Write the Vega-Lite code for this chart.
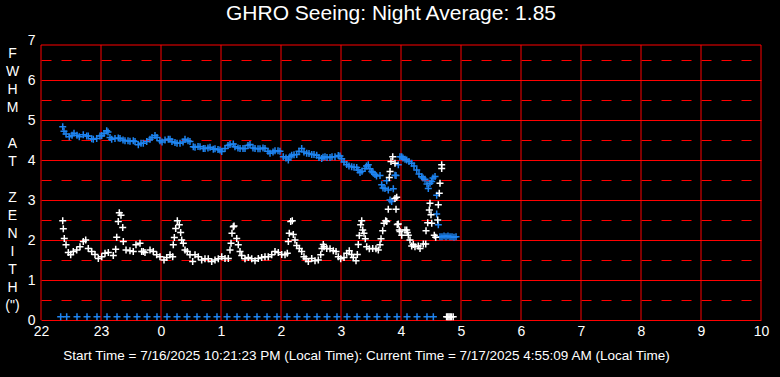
{
"$schema": "https://vega.github.io/schema/vega-lite/v6.json",
"width": 720, "height": 280,
"autosize": {"type": "none"},
"padding": {"left": 41, "top": 40, "right": 19, "bottom": 57},
"background": "black",
"config": {"view": {"stroke": null}, "font": "Liberation Sans"},
"title": {"text": "GHRO Seeing: Night Average: 1.85", "color": "white", "fontSize": 21, "fontWeight": "normal", "font": "Liberation Sans", "anchor": "middle", "offset": 9, "dx": -10},
"datasets": {
"hours": [{"h":0},{"h":1},{"h":2},{"h":3},{"h":4},{"h":5},{"h":6},{"h":7},{"h":8},{"h":9},{"h":10},{"h":11},{"h":12}],
"frame": [{"v":6.875}],
"pts": [
{"h":0.362,"v":4.83,"s":"b"},{"h":0.383,"v":4.72,"s":"b"},{"h":0.417,"v":4.65,"s":"b"},{"h":0.472,"v":4.58,"s":"b"},{"h":0.517,"v":4.62,"s":"b"},{"h":0.55,"v":4.67,"s":"b"},{"h":0.6,"v":4.62,"s":"b"},{"h":0.638,"v":4.58,"s":"b"},{"h":0.705,"v":4.63,"s":"b"},{"h":0.762,"v":4.6,"s":"b"},{"h":0.788,"v":4.6,"s":"b"},{"h":0.845,"v":4.53,"s":"b"},{"h":0.872,"v":4.52,"s":"b"},{"h":0.928,"v":4.54,"s":"b"},{"h":0.983,"v":4.6,"s":"b"},{"h":1.012,"v":4.61,"s":"b"},{"h":1.05,"v":4.66,"s":"b"},{"h":1.095,"v":4.73,"s":"b"},{"h":1.117,"v":4.7,"s":"b"},{"h":1.15,"v":4.56,"s":"b"},{"h":1.178,"v":4.52,"s":"b"},{"h":1.233,"v":4.54,"s":"b"},{"h":1.288,"v":4.55,"s":"b"},{"h":1.317,"v":4.54,"s":"b"},{"h":1.367,"v":4.5,"s":"b"},{"h":1.4,"v":4.48,"s":"b"},{"h":1.45,"v":4.48,"s":"b"},{"h":1.483,"v":4.47,"s":"b"},{"h":1.538,"v":4.48,"s":"b"},{"h":1.567,"v":4.46,"s":"b"},{"h":1.622,"v":4.38,"s":"b"},{"h":1.667,"v":4.42,"s":"b"},{"h":1.705,"v":4.42,"s":"b"},{"h":1.762,"v":4.46,"s":"b"},{"h":1.817,"v":4.52,"s":"b"},{"h":1.85,"v":4.56,"s":"b"},{"h":1.9,"v":4.61,"s":"b"},{"h":1.933,"v":4.56,"s":"b"},{"h":1.983,"v":4.48,"s":"b"},{"h":2.017,"v":4.45,"s":"b"},{"h":2.067,"v":4.5,"s":"b"},{"h":2.122,"v":4.52,"s":"b"},{"h":2.15,"v":4.52,"s":"b"},{"h":2.183,"v":4.46,"s":"b"},{"h":2.233,"v":4.44,"s":"b"},{"h":2.267,"v":4.42,"s":"b"},{"h":2.317,"v":4.42,"s":"b"},{"h":2.367,"v":4.45,"s":"b"},{"h":2.4,"v":4.52,"s":"b"},{"h":2.45,"v":4.48,"s":"b"},{"h":2.483,"v":4.46,"s":"b"},{"h":2.538,"v":4.33,"s":"b"},{"h":2.567,"v":4.32,"s":"b"},{"h":2.617,"v":4.34,"s":"b"},{"h":2.65,"v":4.33,"s":"b"},{"h":2.705,"v":4.29,"s":"b"},{"h":2.733,"v":4.29,"s":"b"},{"h":2.783,"v":4.3,"s":"b"},{"h":2.817,"v":4.32,"s":"b"},{"h":2.872,"v":4.27,"s":"b"},{"h":2.9,"v":4.28,"s":"b"},{"h":2.95,"v":4.26,"s":"b"},{"h":2.983,"v":4.25,"s":"b"},{"h":3.012,"v":4.21,"s":"b"},{"h":3.067,"v":4.29,"s":"b"},{"h":3.117,"v":4.36,"s":"b"},{"h":3.15,"v":4.39,"s":"b"},{"h":3.205,"v":4.4,"s":"b"},{"h":3.233,"v":4.33,"s":"b"},{"h":3.283,"v":4.3,"s":"b"},{"h":3.317,"v":4.29,"s":"b"},{"h":3.367,"v":4.29,"s":"b"},{"h":3.4,"v":4.29,"s":"b"},{"h":3.45,"v":4.36,"s":"b"},{"h":3.483,"v":4.39,"s":"b"},{"h":3.533,"v":4.3,"s":"b"},{"h":3.567,"v":4.29,"s":"b"},{"h":3.617,"v":4.28,"s":"b"},{"h":3.65,"v":4.28,"s":"b"},{"h":3.7,"v":4.3,"s":"b"},{"h":3.733,"v":4.29,"s":"b"},{"h":3.783,"v":4.22,"s":"b"},{"h":3.817,"v":4.17,"s":"b"},{"h":3.867,"v":4.2,"s":"b"},{"h":3.9,"v":4.23,"s":"b"},{"h":3.95,"v":4.23,"s":"b"},{"h":3.983,"v":4.22,"s":"b"},{"h":4.038,"v":4.08,"s":"b"},{"h":4.083,"v":4.05,"s":"b"},{"h":4.122,"v":4.0,"s":"b"},{"h":4.15,"v":4.08,"s":"b"},{"h":4.178,"v":4.12,"s":"b"},{"h":4.217,"v":4.13,"s":"b"},{"h":4.262,"v":4.14,"s":"b"},{"h":4.3,"v":4.22,"s":"b"},{"h":4.345,"v":4.29,"s":"b"},{"h":4.383,"v":4.2,"s":"b"},{"h":4.428,"v":4.17,"s":"b"},{"h":4.467,"v":4.16,"s":"b"},{"h":4.512,"v":4.14,"s":"b"},{"h":4.55,"v":4.14,"s":"b"},{"h":4.595,"v":4.12,"s":"b"},{"h":4.633,"v":4.06,"s":"b"},{"h":4.678,"v":4.04,"s":"b"},{"h":4.7,"v":4.07,"s":"b"},{"h":4.733,"v":4.08,"s":"b"},{"h":4.767,"v":4.06,"s":"b"},{"h":4.817,"v":4.06,"s":"b"},{"h":4.85,"v":4.08,"s":"b"},{"h":4.9,"v":4.08,"s":"b"},{"h":4.955,"v":4.11,"s":"b"},{"h":4.983,"v":4.1,"s":"b"},{"h":5.012,"v":4.03,"s":"b"},{"h":5.05,"v":3.95,"s":"b"},{"h":5.095,"v":3.89,"s":"b"},{"h":5.133,"v":3.85,"s":"b"},{"h":5.178,"v":3.83,"s":"b"},{"h":5.217,"v":3.82,"s":"b"},{"h":5.262,"v":3.81,"s":"b"},{"h":5.283,"v":3.75,"s":"b"},{"h":5.317,"v":3.69,"s":"b"},{"h":5.35,"v":3.72,"s":"b"},{"h":5.4,"v":3.79,"s":"b"},{"h":5.425,"v":3.85,"s":"b"},{"h":5.455,"v":3.88,"s":"b"},{"h":5.483,"v":3.78,"s":"b"},{"h":5.512,"v":3.71,"s":"b"},{"h":5.533,"v":3.68,"s":"b"},{"h":5.567,"v":3.64,"s":"b"},{"h":5.592,"v":3.6,"s":"b"},{"h":5.65,"v":3.61,"s":"b"},{"h":5.678,"v":3.38,"s":"b"},{"h":5.7,"v":3.3,"s":"b"},{"h":5.733,"v":3.29,"s":"b"},{"h":5.762,"v":3.48,"s":"b"},{"h":5.788,"v":3.25,"s":"b"},{"h":5.817,"v":3.0,"s":"b"},{"h":5.845,"v":2.96,"s":"b"},{"h":5.872,"v":3.28,"s":"b"},{"h":5.9,"v":3.62,"s":"b"},{"h":5.917,"v":3.61,"s":"b"},{"h":5.955,"v":3.88,"s":"b"},{"h":5.983,"v":4.08,"s":"b"},{"h":6.012,"v":4.08,"s":"b"},{"h":6.033,"v":4.05,"s":"b"},{"h":6.067,"v":4.02,"s":"b"},{"h":6.095,"v":4.0,"s":"b"},{"h":6.133,"v":3.96,"s":"b"},{"h":6.178,"v":3.92,"s":"b"},{"h":6.217,"v":3.85,"s":"b"},{"h":6.262,"v":3.75,"s":"b"},{"h":6.3,"v":3.65,"s":"b"},{"h":6.345,"v":3.58,"s":"b"},{"h":6.367,"v":3.55,"s":"b"},{"h":6.4,"v":3.52,"s":"b"},{"h":6.433,"v":3.4,"s":"b"},{"h":6.455,"v":3.29,"s":"b"},{"h":6.483,"v":3.42,"s":"b"},{"h":6.512,"v":3.46,"s":"b"},{"h":6.533,"v":3.55,"s":"b"},{"h":6.567,"v":3.59,"s":"b"},{"h":6.595,"v":2.65,"s":"b"},{"h":6.595,"v":3.12,"s":"b"},{"h":6.622,"v":2.38,"s":"b"},{"h":6.65,"v":2.08,"s":"b"},{"h":6.683,"v":2.08,"s":"b"},{"h":6.717,"v":2.1,"s":"b"},{"h":6.75,"v":2.08,"s":"b"},{"h":6.783,"v":2.1,"s":"b"},{"h":6.817,"v":2.08,"s":"b"},{"h":6.85,"v":2.08,"s":"b"},{"h":6.883,"v":2.07,"s":"b"},{"h":6.917,"v":2.08,"s":"b"},
{"h":0.328,"v":0.08,"s":"b"},{"h":0.428,"v":0.08,"s":"b"},{"h":0.6,"v":0.08,"s":"b"},{"h":0.767,"v":0.08,"s":"b"},{"h":0.933,"v":0.08,"s":"b"},{"h":1.1,"v":0.08,"s":"b"},{"h":1.267,"v":0.08,"s":"b"},{"h":1.433,"v":0.08,"s":"b"},{"h":1.6,"v":0.08,"s":"b"},{"h":1.767,"v":0.08,"s":"b"},{"h":1.933,"v":0.08,"s":"b"},{"h":2.1,"v":0.08,"s":"b"},{"h":2.267,"v":0.08,"s":"b"},{"h":2.433,"v":0.08,"s":"b"},{"h":2.6,"v":0.08,"s":"b"},{"h":2.767,"v":0.08,"s":"b"},{"h":2.933,"v":0.08,"s":"b"},{"h":3.1,"v":0.08,"s":"b"},{"h":3.267,"v":0.08,"s":"b"},{"h":3.433,"v":0.08,"s":"b"},{"h":3.6,"v":0.08,"s":"b"},{"h":3.767,"v":0.08,"s":"b"},{"h":3.933,"v":0.08,"s":"b"},{"h":4.1,"v":0.08,"s":"b"},{"h":4.267,"v":0.08,"s":"b"},{"h":4.433,"v":0.08,"s":"b"},{"h":4.6,"v":0.08,"s":"b"},{"h":4.767,"v":0.08,"s":"b"},{"h":4.933,"v":0.08,"s":"b"},{"h":5.1,"v":0.08,"s":"b"},{"h":5.267,"v":0.08,"s":"b"},{"h":5.433,"v":0.08,"s":"b"},{"h":5.6,"v":0.08,"s":"b"},{"h":5.767,"v":0.08,"s":"b"},{"h":5.933,"v":0.08,"s":"b"},{"h":6.1,"v":0.08,"s":"b"},{"h":6.267,"v":0.08,"s":"b"},{"h":6.433,"v":0.08,"s":"b"},{"h":6.539,"v":0.08,"s":"b"},
{"h":0.362,"v":2.48,"s":"w"},{"h":0.372,"v":2.28,"s":"w"},{"h":0.388,"v":2.04,"s":"w"},{"h":0.417,"v":1.88,"s":"w"},{"h":0.455,"v":1.69,"s":"w"},{"h":0.495,"v":1.63,"s":"w"},{"h":0.538,"v":1.71,"s":"w"},{"h":0.595,"v":1.75,"s":"w"},{"h":0.65,"v":1.83,"s":"w"},{"h":0.705,"v":1.96,"s":"w"},{"h":0.745,"v":2.0,"s":"w"},{"h":0.788,"v":1.79,"s":"w"},{"h":0.845,"v":1.71,"s":"w"},{"h":0.9,"v":1.64,"s":"w"},{"h":0.955,"v":1.54,"s":"w"},{"h":1.012,"v":1.58,"s":"w"},{"h":1.067,"v":1.67,"s":"w"},{"h":1.122,"v":1.69,"s":"w"},{"h":1.205,"v":1.61,"s":"w"},{"h":1.245,"v":1.77,"s":"w"},{"h":1.262,"v":2.07,"s":"w"},{"h":1.288,"v":2.46,"s":"w"},{"h":1.305,"v":2.68,"s":"w"},{"h":1.333,"v":2.62,"s":"w"},{"h":1.362,"v":2.31,"s":"w"},{"h":1.372,"v":1.96,"s":"w"},{"h":1.417,"v":1.75,"s":"w"},{"h":1.483,"v":1.73,"s":"w"},{"h":1.538,"v":1.71,"s":"w"},{"h":1.583,"v":1.88,"s":"w"},{"h":1.65,"v":1.92,"s":"w"},{"h":1.678,"v":1.71,"s":"w"},{"h":1.705,"v":1.71,"s":"w"},{"h":1.733,"v":1.69,"s":"w"},{"h":1.817,"v":1.75,"s":"w"},{"h":1.872,"v":1.71,"s":"w"},{"h":1.928,"v":1.63,"s":"w"},{"h":1.983,"v":1.58,"s":"w"},{"h":2.05,"v":1.5,"s":"w"},{"h":2.095,"v":1.56,"s":"w"},{"h":2.15,"v":1.63,"s":"w"},{"h":2.195,"v":1.58,"s":"w"},{"h":2.205,"v":1.88,"s":"w"},{"h":2.222,"v":2.06,"s":"w"},{"h":2.245,"v":2.29,"s":"w"},{"h":2.272,"v":2.48,"s":"w"},{"h":2.305,"v":2.38,"s":"w"},{"h":2.328,"v":2.19,"s":"w"},{"h":2.345,"v":2.0,"s":"w"},{"h":2.372,"v":1.92,"s":"w"},{"h":2.4,"v":1.75,"s":"w"},{"h":2.438,"v":1.71,"s":"w"},{"h":2.483,"v":1.63,"s":"w"},{"h":2.528,"v":1.46,"s":"w"},{"h":2.567,"v":1.63,"s":"w"},{"h":2.622,"v":1.58,"s":"w"},{"h":2.678,"v":1.5,"s":"w"},{"h":2.733,"v":1.53,"s":"w"},{"h":2.788,"v":1.53,"s":"w"},{"h":2.845,"v":1.46,"s":"w"},{"h":2.9,"v":1.5,"s":"w"},{"h":2.955,"v":1.53,"s":"w"},{"h":3.012,"v":1.58,"s":"w"},{"h":3.067,"v":1.54,"s":"w"},{"h":3.122,"v":1.54,"s":"w"},{"h":3.15,"v":1.75,"s":"w"},{"h":3.167,"v":1.92,"s":"w"},{"h":3.183,"v":2.17,"s":"w"},{"h":3.205,"v":2.33,"s":"w"},{"h":3.217,"v":2.35,"s":"w"},{"h":3.262,"v":2.04,"s":"w"},{"h":3.288,"v":1.88,"s":"w"},{"h":3.317,"v":1.71,"s":"w"},{"h":3.345,"v":1.61,"s":"w"},{"h":3.4,"v":1.53,"s":"w"},{"h":3.455,"v":1.56,"s":"w"},{"h":3.512,"v":1.53,"s":"w"},{"h":3.567,"v":1.48,"s":"w"},{"h":3.622,"v":1.54,"s":"w"},{"h":3.678,"v":1.56,"s":"w"},{"h":3.733,"v":1.58,"s":"w"},{"h":3.788,"v":1.58,"s":"w"},{"h":3.845,"v":1.63,"s":"w"},{"h":3.9,"v":1.71,"s":"w"},{"h":3.955,"v":1.69,"s":"w"},{"h":4.012,"v":1.64,"s":"w"},{"h":4.067,"v":1.63,"s":"w"},{"h":4.105,"v":1.67,"s":"w"},{"h":4.122,"v":1.96,"s":"w"},{"h":4.138,"v":2.17,"s":"w"},{"h":4.162,"v":2.46,"s":"w"},{"h":4.188,"v":2.48,"s":"w"},{"h":4.205,"v":2.14,"s":"w"},{"h":4.233,"v":2.0,"s":"w"},{"h":4.262,"v":1.86,"s":"w"},{"h":4.305,"v":1.79,"s":"w"},{"h":4.345,"v":1.71,"s":"w"},{"h":4.383,"v":1.58,"s":"w"},{"h":4.417,"v":1.53,"s":"w"},{"h":4.455,"v":1.46,"s":"w"},{"h":4.512,"v":1.54,"s":"w"},{"h":4.567,"v":1.48,"s":"w"},{"h":4.622,"v":1.5,"s":"w"},{"h":4.662,"v":1.63,"s":"w"},{"h":4.683,"v":1.79,"s":"w"},{"h":4.705,"v":1.89,"s":"w"},{"h":4.717,"v":1.83,"s":"w"},{"h":4.762,"v":1.79,"s":"w"},{"h":4.817,"v":1.78,"s":"w"},{"h":4.872,"v":1.73,"s":"w"},{"h":4.917,"v":1.71,"s":"w"},{"h":4.955,"v":1.58,"s":"w"},{"h":4.995,"v":1.53,"s":"w"},{"h":5.05,"v":1.56,"s":"w"},{"h":5.095,"v":1.67,"s":"w"},{"h":5.138,"v":1.73,"s":"w"},{"h":5.178,"v":1.64,"s":"w"},{"h":5.205,"v":1.56,"s":"w"},{"h":5.25,"v":1.48,"s":"w"},{"h":5.272,"v":1.64,"s":"w"},{"h":5.288,"v":1.89,"s":"w"},{"h":5.305,"v":2.11,"s":"w"},{"h":5.328,"v":2.38,"s":"w"},{"h":5.345,"v":2.48,"s":"w"},{"h":5.362,"v":2.25,"s":"w"},{"h":5.383,"v":2.17,"s":"w"},{"h":5.405,"v":2.03,"s":"w"},{"h":5.428,"v":1.83,"s":"w"},{"h":5.472,"v":1.78,"s":"w"},{"h":5.528,"v":1.79,"s":"w"},{"h":5.583,"v":1.78,"s":"w"},{"h":5.622,"v":1.75,"s":"w"},{"h":5.65,"v":1.88,"s":"w"},{"h":5.667,"v":2.03,"s":"w"},{"h":5.695,"v":2.23,"s":"w"},{"h":5.717,"v":2.42,"s":"w"},{"h":5.745,"v":2.48,"s":"w"},{"h":5.762,"v":2.46,"s":"w"},{"h":5.788,"v":2.77,"s":"w"},{"h":5.805,"v":3.56,"s":"w"},{"h":5.817,"v":3.71,"s":"w"},{"h":5.833,"v":3.96,"s":"w"},{"h":5.862,"v":4.08,"s":"w"},{"h":5.9,"v":3.92,"s":"w"},{"h":5.9,"v":3.04,"s":"w"},{"h":5.917,"v":2.77,"s":"w"},{"h":5.928,"v":3.07,"s":"w"},{"h":5.938,"v":2.39,"s":"w"},{"h":5.955,"v":2.4,"s":"w"},{"h":5.972,"v":2.25,"s":"w"},{"h":5.983,"v":2.21,"s":"w"},{"h":6.012,"v":2.12,"s":"w"},{"h":6.067,"v":2.25,"s":"w"},{"h":6.095,"v":2.25,"s":"w"},{"h":6.105,"v":2.19,"s":"w"},{"h":6.122,"v":2.12,"s":"w"},{"h":6.15,"v":2.0,"s":"w"},{"h":6.178,"v":1.85,"s":"w"},{"h":6.205,"v":1.89,"s":"w"},{"h":6.233,"v":1.83,"s":"w"},{"h":6.288,"v":1.85,"s":"w"},{"h":6.317,"v":1.79,"s":"w"},{"h":6.372,"v":1.9,"s":"w"},{"h":6.412,"v":1.9,"s":"w"},{"h":6.417,"v":2.23,"s":"w"},{"h":6.445,"v":2.43,"s":"w"},{"h":6.472,"v":2.75,"s":"w"},{"h":6.483,"v":2.92,"s":"w"},{"h":6.5,"v":2.63,"s":"w"},{"h":6.512,"v":2.42,"s":"w"},{"h":6.555,"v":2.12,"s":"w"},{"h":6.578,"v":2.07,"s":"w"},{"h":6.612,"v":2.5,"s":"w"},{"h":6.622,"v":2.88,"s":"w"},{"h":6.638,"v":3.17,"s":"w"},{"h":6.65,"v":3.42,"s":"w"},{"h":6.678,"v":3.79,"s":"w"},{"h":6.678,"v":3.88,"s":"w"},
{"h":6.76,"v":0.08,"s":"w"},{"h":6.78,"v":0.08,"s":"w"},{"h":6.8,"v":0.08,"s":"w"},{"h":6.82,"v":0.08,"s":"w"},{"h":6.84,"v":0.08,"s":"w"},{"h":6.87,"v":0.08,"s":"w"}
]
},
"layer": [
{
 "data": {"name": "hours"},
 "mark": {"type": "rule", "color": "#ff0000", "strokeWidth": 1},
 "encoding": {
  "x": {"field": "h", "type": "quantitative", "scale": {"domain": [0, 12]},
   "axis": {"values": [0,1,2,3,4,5,6,7,8,9,10,11,12], "tickCount": 30, "labelExpr": "'' + ((22 + datum.value) % 24)", "labelColor": "white", "labelFontSize": 14, "labelFont": "Liberation Sans", "ticks": false, "domain": false, "grid": false, "labelPadding": 4, "labelFlush": false, "labelOverlap": false,
    "title": "Start Time = 7/16/2025 10:21:23 PM (Local Time): Current Time = 7/17/2025 4:55:09 AM (Local Time)", "titleColor": "white", "titleFontSize": 13.5, "titleFont": "Liberation Sans", "titleFontWeight": "normal", "titleX": 325, "titleY": 35, "titleAlign": "center", "titleBaseline": "middle"}},
  "y": {"datum": 0, "type": "quantitative", "scale": {"domain": [0, 7]},
   "axis": {"values": [0,0.5,1,1.5,2,2.5,3,3.5,4,4.5,5,5.5,6,6.5,7], "tickCount": 30, "labelExpr": "datum.value % 1 === 0 ? '' + datum.value : ''", "labelColor": "white", "labelFontSize": 14, "labelFont": "Liberation Sans", "labelPadding": 6, "labelOverlap": false, "labelFlush": false, "ticks": false, "domain": false,
    "grid": true, "gridColor": "#ff0000", "gridWidth": 1,
    "gridDash": {"condition": {"test": "datum.value % 1 !== 0", "value": [10, 10]}, "value": []},
    "gridOpacity": {"condition": {"test": "datum.value === 7", "value": 0}, "value": 1},
    "title": ["F", "W", "H", "M", "\u2800", "A", "T", "\u2800", "Z", "E", "N", "I", "T", "H", "(\")"], "titleAngle": 0, "titleX": -29, "titleY": 13, "titleAlign": "center", "titleBaseline": "middle", "titleColor": "white", "titleFontSize": 14, "titleFontWeight": "normal", "titleFont": "Liberation Sans", "titleLineHeight": 18}},
  "y2": {"datum": 6.875}
 }
},
{
 "data": {"name": "frame"},
 "mark": {"type": "rule", "color": "#ff0000", "strokeWidth": 1},
 "encoding": {"y": {"field": "v", "type": "quantitative"}}
},
{
 "data": {"name": "pts"},
 "mark": {"type": "point", "shape": "M-1,0H1M0,-1V1", "size": 49, "filled": false, "strokeWidth": 1.5, "opacity": 1},
 "encoding": {
  "x": {"field": "h", "type": "quantitative"},
  "y": {"field": "v", "type": "quantitative"},
  "color": {"field": "s", "type": "nominal", "scale": {"domain": ["b", "w"], "range": ["#1E84F0", "#FFFFFF"]}, "legend": null}
 }
}
]
}
